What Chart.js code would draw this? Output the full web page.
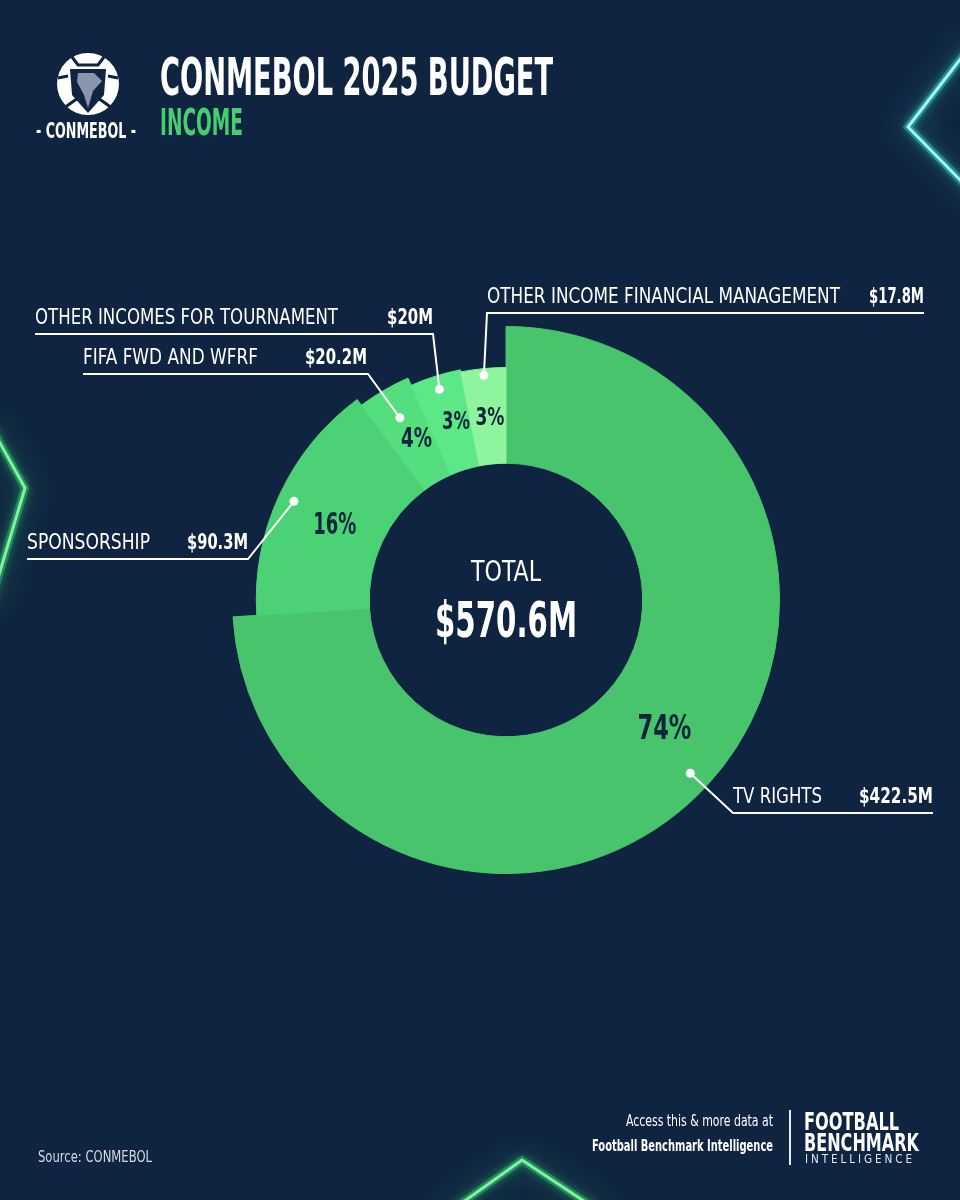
<!DOCTYPE html>
<html>
<head>
<meta charset="utf-8">
<script src="https://cdn.jsdelivr.net/npm/chart.js@4.4.1/dist/chart.umd.min.js"></script>
<style>
  html, body { margin: 0; padding: 0; background: #0f2440; }
  body { width: 960px; height: 1200px; position: relative; overflow: hidden;
         font-family: "Liberation Sans Narrow", "DejaVu Sans Condensed", "Liberation Sans", sans-serif; }
  canvas { position: absolute; left: 0; top: 0; }
  .t { position: absolute; white-space: nowrap; color: #fff; line-height: 1; transform-origin: 0 0; }
  .b { font-weight: bold; }
  #divider { position: absolute; left: 789px; top: 1110px; width: 1.5px; height: 55px; background: #e8edf2; }
</style>
</head>
<body>
<canvas id="bg" width="960" height="1200"></canvas>
<canvas id="chart" width="960" height="1200"></canvas>

<div class="t b" data-w="393" style="left:160px;top:51px;font-size:52px;">CONMEBOL 2025 BUDGET</div>
<div class="t b" data-w="83" style="left:160px;top:103px;font-size:38px;color:#45cf6e;">INCOME</div>
<div class="t b" data-w="100" style="left:36px;top:120px;font-size:22px;">- CONMEBOL -</div>

<div class="t" data-w="114" style="left:38px;top:1150px;font-size:15px;color:#d5dae1;">Source: CONMEBOL</div>
<div class="t" data-w="147" style="left:626px;top:1113px;font-size:16px;">Access this &amp; more data at</div>
<div class="t b" data-w="181" style="left:592px;top:1138px;font-size:16px;">Football Benchmark Intelligence</div>
<div id="divider"></div>
<div class="t b" data-w="95" style="left:804px;top:1110px;font-size:24px;">FOOTBALL</div>
<div class="t b" data-w="115" style="left:804px;top:1131px;font-size:24px;">BENCHMARK</div>
<div class="t" data-w="110" style="left:805px;top:1153px;font-size:12px;letter-spacing:3px;color:#dfe6ec;">INTELLIGENCE</div>

<script>
// income lines, CONMEBOL 2025 budget (USD millions)
const categories = ["TV RIGHTS", "SPONSORSHIP", "FIFA FWD AND WFRF", "OTHER INCOMES FOR TOURNAMENT", "OTHER INCOME FINANCIAL MANAGEMENT"];
const incomeM = [422.5, 90.3, 20.2, 20, 17.8];
// shares as printed on the graphic
const sharePct = [74, 16, 4, 3, 3];
const totalM = 570.6;

// styling
const sliceColors = ["#48c46c", "#4bd274", "#55de7d", "#5ce886", "#8ef59e"];
const outerScale = [1, 0.913, 0.887, 0.858, 0.85];
const pctWidths = [54, 43, 31, 28, 29];
const pctSizes = [34, 30, 26, 24, 24];
const pctNudge = [[9, -10], [4, 8], [6, 4], [6, 0], [2, 2]];
// where each callout text sits
const callouts = [
  { nameX: 733, nameW: 89, valueRight: 933, valueW: 74, lineY: 813, elbowX: 733, dotAt: 0.85 },
  { nameX: 27, nameW: 123, valueRight: 248, valueW: 61, lineY: 559, elbowX: 248, dotAt: 0.86 },
  { nameX: 83, nameW: 175, valueRight: 367, valueW: 62, lineY: 374, elbowX: 368, dotAt: 0.70 },
  { nameX: 35, nameW: 303, valueRight: 433, valueW: 46, lineY: 334, elbowX: 433, dotAt: 0.86 },
  { nameX: 487, nameW: 353, valueRight: 924, valueW: 55, lineY: 313, elbowX: 487, dotAt: 0.93 },
];
const FONT = '"Liberation Sans Narrow", "DejaVu Sans Condensed", "Liberation Sans", sans-serif';

//squeeze text to a given width
function drawFit(ctx, text, x, y, w, font, align) {
  ctx.save();
  ctx.font = font;
  const m = ctx.measureText(text).width;
  let left = x;
  if (align === "right") left = x - w;
  if (align === "center") left = x - w / 2;
  ctx.translate(left, y);
  ctx.scale(w / m, 1);
  ctx.textAlign = "left";
  ctx.fillText(text, 0, 0);
  ctx.restore();
}

// html text widths
document.querySelectorAll("[data-w]").forEach((el) => {
  const w = el.getBoundingClientRect().width;
  el.style.transform = "scaleX(" + (+el.dataset.w / w) + ")";
});

// background glows + logo
const bg = document.getElementById("bg").getContext("2d");
function glow(pts, color, core) {
  bg.save();
  bg.lineJoin = "miter";
  bg.lineCap = "round";
  const path = () => {
    bg.beginPath();
    bg.moveTo(pts[0][0], pts[0][1]);
    for (let i = 1; i < pts.length; i++) bg.lineTo(pts[i][0], pts[i][1]);
  };
  bg.strokeStyle = color;
  bg.shadowColor = color;
  bg.shadowBlur = 30;
  bg.lineWidth = 8;
  bg.globalAlpha = 0.35;
  path(); bg.stroke();
  bg.globalAlpha = 1;
  bg.shadowBlur = 10;
  bg.lineWidth = 3;
  bg.strokeStyle = core;
  path(); bg.stroke();
  bg.restore();
}
glow([[975, 40], [908, 127], [975, 195]], "#3fe3d6", "#9ff8f0");
glow([[-10, 425], [25, 488], [-10, 605]], "#3fe07a", "#7cf5a0");
glow([[445, 1215], [522, 1160], [605, 1215]], "#3fe07a", "#7cf5a0");

// simple conmebol ball mark
bg.save();
bg.fillStyle = "#ffffff";
bg.beginPath();
bg.arc(88, 84, 31, 0, Math.PI * 2);
bg.fill();
bg.strokeStyle = "#0f2440";
bg.lineWidth = 3;
bg.beginPath();
bg.moveTo(72, 57); bg.lineTo(78, 65); bg.lineTo(98, 65); bg.lineTo(104, 57);
bg.moveTo(58, 78); bg.lineTo(68, 76);
bg.moveTo(118, 78); bg.lineTo(108, 76);
bg.moveTo(64, 108); bg.lineTo(78, 98);
bg.moveTo(112, 108); bg.lineTo(98, 98);
bg.stroke();
bg.fillStyle = "#0f2440";
bg.beginPath();
bg.moveTo(70, 69); bg.lineTo(106, 69); bg.lineTo(104, 95); bg.lineTo(88, 113); bg.lineTo(72, 95);
bg.closePath();
bg.fill();
bg.fillStyle = "#8796ad";
bg.beginPath();
bg.moveTo(78, 73); bg.lineTo(94, 73); bg.lineTo(102, 81); bg.lineTo(93, 91); bg.lineTo(88, 108); bg.lineTo(84, 95); bg.lineTo(77, 82);
bg.closePath();
bg.fill();
bg.restore();

// give each slice its own outer radius
const radiusPlugin = {
  id: "radii",
  beforeDatasetsDraw(chart) {
    const meta = chart.getDatasetMeta(0);
    const base = meta.controller.outerRadius;
    meta.data.forEach((arc, i) => {
      arc.outerRadius = base * outerScale[i];
    });
  },
};

// percentages, callouts, total
const labelPlugin = {
  id: "labels",
  afterDatasetsDraw(chart) {
    const ctx = chart.ctx;
    const meta = chart.getDatasetMeta(0);
    meta.data.forEach((arc, i) => {
      const c = arc.getCenterPoint();
      ctx.fillStyle = "#10243d";
      ctx.textBaseline = "middle";
      drawFit(ctx, sharePct[i] + "%", c.x + pctNudge[i][0], c.y + pctNudge[i][1], pctWidths[i], "bold " + pctSizes[i] + "px " + FONT, "center");

      const co = callouts[i];
      const mid = (arc.startAngle + arc.endAngle) / 2;
      const r = arc.innerRadius + (arc.outerRadius - arc.innerRadius) * co.dotAt;
      const dx = arc.x + Math.cos(mid) * r;
      const dy = arc.y + Math.sin(mid) * r;
      ctx.strokeStyle = "#ffffff";
      ctx.lineWidth = 2;
      ctx.beginPath();
      ctx.moveTo(dx, dy);
      ctx.lineTo(co.elbowX, co.lineY);
      const lineEnd = co.elbowX === co.nameX ? co.valueRight : co.nameX;
      ctx.lineTo(lineEnd, co.lineY);
      ctx.stroke();
      ctx.fillStyle = "#ffffff";
      ctx.beginPath();
      ctx.arc(dx, dy, 4.5, 0, Math.PI * 2);
      ctx.fill();

      ctx.textBaseline = "alphabetic";
      drawFit(ctx, categories[i], co.nameX, co.lineY - 10, co.nameW, "22px " + FONT, "left");
      drawFit(ctx, "$" + incomeM[i] + "M", co.valueRight, co.lineY - 10, co.valueW, "bold 22px " + FONT, "right");
    });

    const cx = meta.data[0].x;
    const cy = meta.data[0].y;
    ctx.fillStyle = "#ffffff";
    ctx.textBaseline = "alphabetic";
    drawFit(ctx, "TOTAL", cx, cy - 19, 70, "28px " + FONT, "center");
    drawFit(ctx, "$" + totalM + "M", cx, cy + 37, 142, "bold 50px " + FONT, "center");
  },
};

const myChart = new Chart(document.getElementById("chart"), {
  type: "doughnut",
  plugins: [radiusPlugin, labelPlugin],
  data: {
    labels: categories,
    datasets: [
      {
        data: incomeM,
        backgroundColor: sliceColors,
        //same colour border hides the seams between slices
        borderColor: sliceColors,
        borderWidth: 1,
      },
    ],
  },
  options: {
    responsive: false,
    animation: false,
    cutout: "50%",
    layout: { padding: { left: 232, right: 180, top: 326, bottom: 326 } },
    plugins: {
      legend: { display: false },
      tooltip: { enabled: false },
    },
  },
});
</script>
</body>
</html>
